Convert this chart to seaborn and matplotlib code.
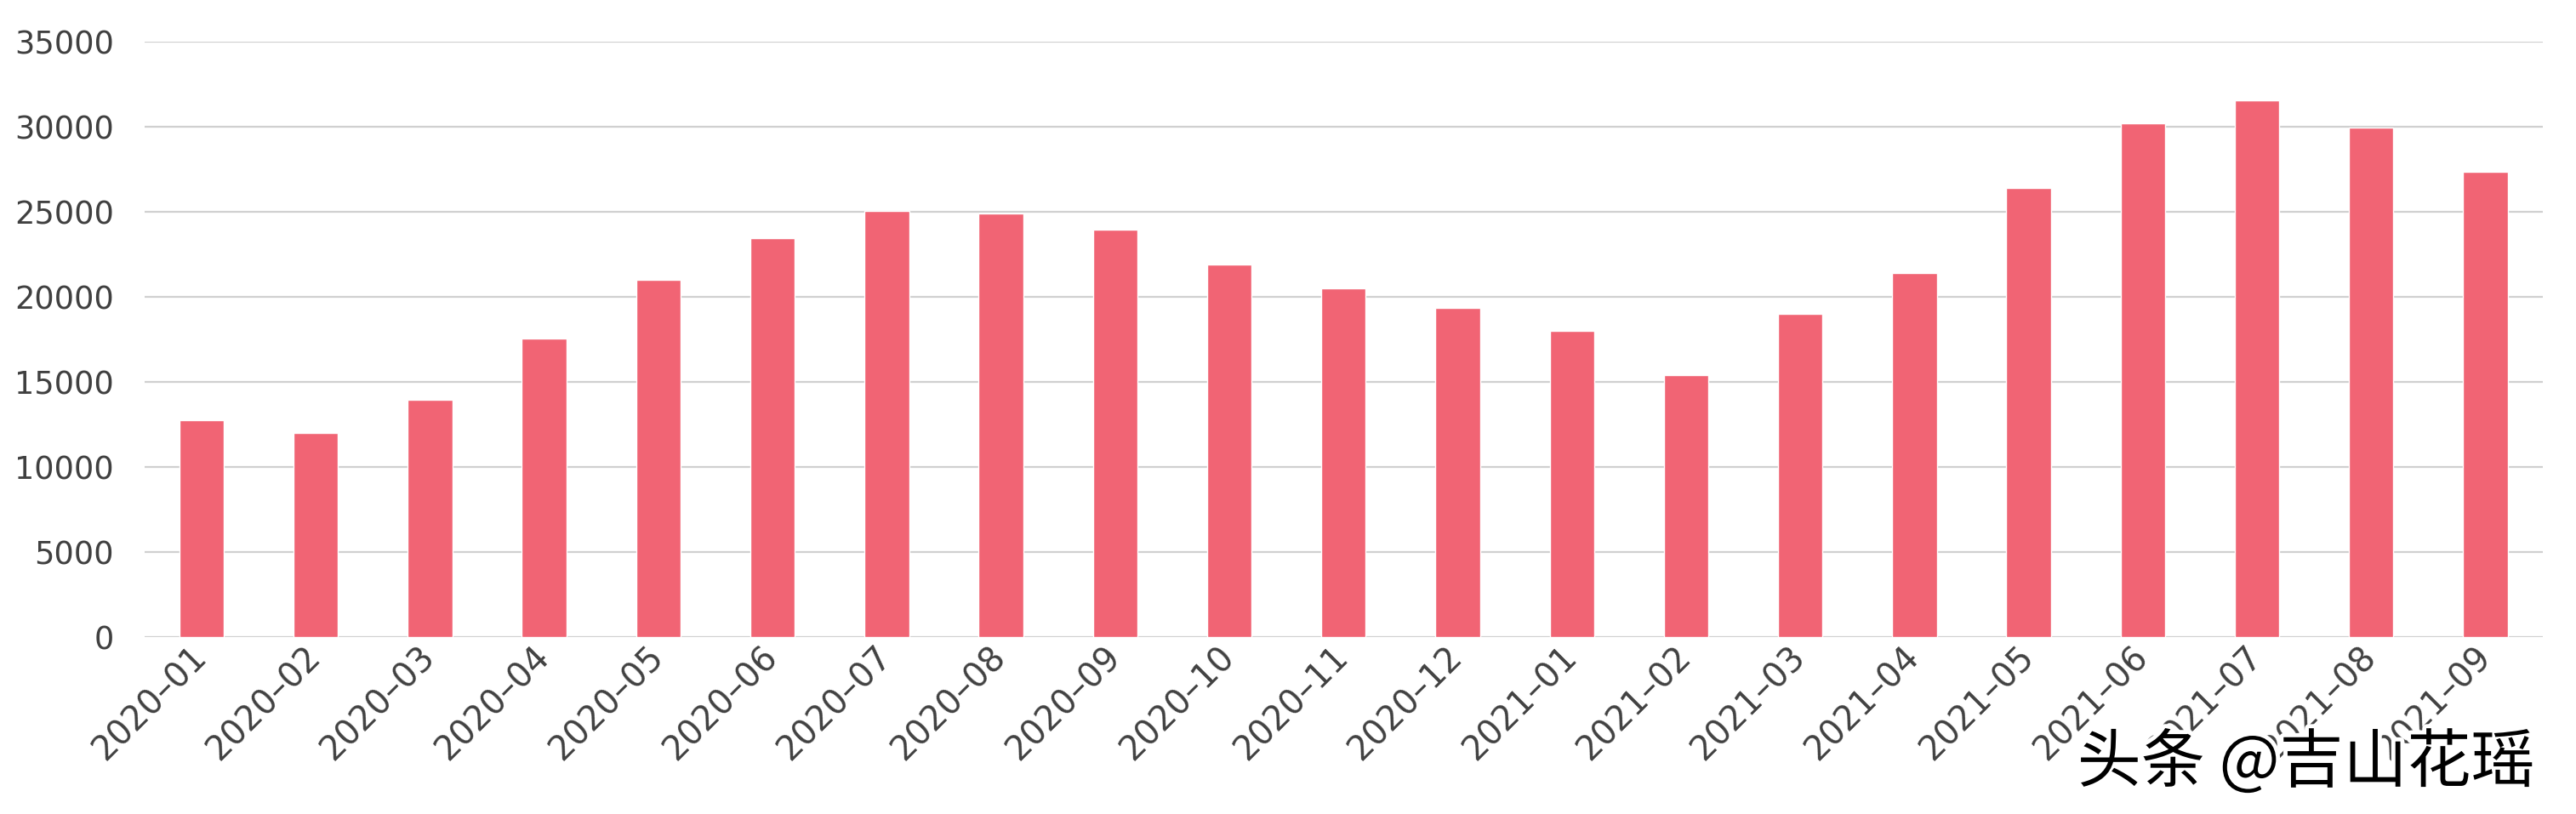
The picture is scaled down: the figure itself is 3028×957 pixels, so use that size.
import matplotlib
matplotlib.use("Agg")
import matplotlib.pyplot as plt
import matplotlib.patheffects as pe
import seaborn as sns
import pandas as pd

# monthly values
months = ['2020–01', '2020–02', '2020–03', '2020–04', '2020–05', '2020–06',
          '2020–07', '2020–08', '2020–09', '2020–10', '2020–11', '2020–12',
          '2021–01', '2021–02', '2021–03', '2021–04', '2021–05', '2021–06',
          '2021–07', '2021–08', '2021–09']
values = [12750, 12000, 13950, 17550, 21000, 23450,
          25050, 24900, 23950, 21900, 20500, 19330,
          18000, 15400, 18980, 21400, 26400, 30200,
          31550, 29950, 27350]
y_ticks = [0, 5000, 10000, 15000, 20000, 25000, 30000, 35000]

df = pd.DataFrame({'month': months, 'value': values})

sns.set_theme(style='white')
plt.rcParams['font.family'] = ['DejaVu Sans', 'Noto Sans CJK SC']

fig = plt.figure(figsize=(30.28, 9.57), dpi=100)
ax = fig.add_axes([0.0561, 0.2173, 0.9309, 0.7315])

sns.barplot(data=df, x='month', y='value', color='#F16474', width=0.39,
            saturation=1, ax=ax, zorder=3)

ax.set_ylim(0, 35000)
ax.set_xlim(-0.5, len(months) - 0.5)
ax.set_yticks(y_ticks)
ax.set_yticklabels([str(t) for t in y_ticks])
ax.yaxis.grid(True, color='#D0D0D0', linewidth=1.6, zorder=0)
ax.xaxis.grid(False)
ax.set_axisbelow(True)
for s in ax.spines.values():
    s.set_visible(False)

ax.set_xlabel('')
ax.set_ylabel('')
ax.tick_params(axis='y', length=0, pad=26, labelsize=26.5, labelcolor='#404040')
ax.tick_params(axis='x', length=0, pad=13, labelsize=28.5, labelcolor='#404040')
plt.setp(ax.get_xticklabels(), rotation=45, ha='right', va='center',
         rotation_mode='anchor')

# watermark in the bottom right corner
fig.text(0.984, 0.062, '头条 @吉山花瑶', ha='right', va='center',
         fontsize=54, color='black', family=['Noto Sans CJK SC', 'DejaVu Sans'],
         path_effects=[pe.withStroke(linewidth=7, foreground='white')])

fig.savefig('out.png', dpi=100, facecolor='white')
